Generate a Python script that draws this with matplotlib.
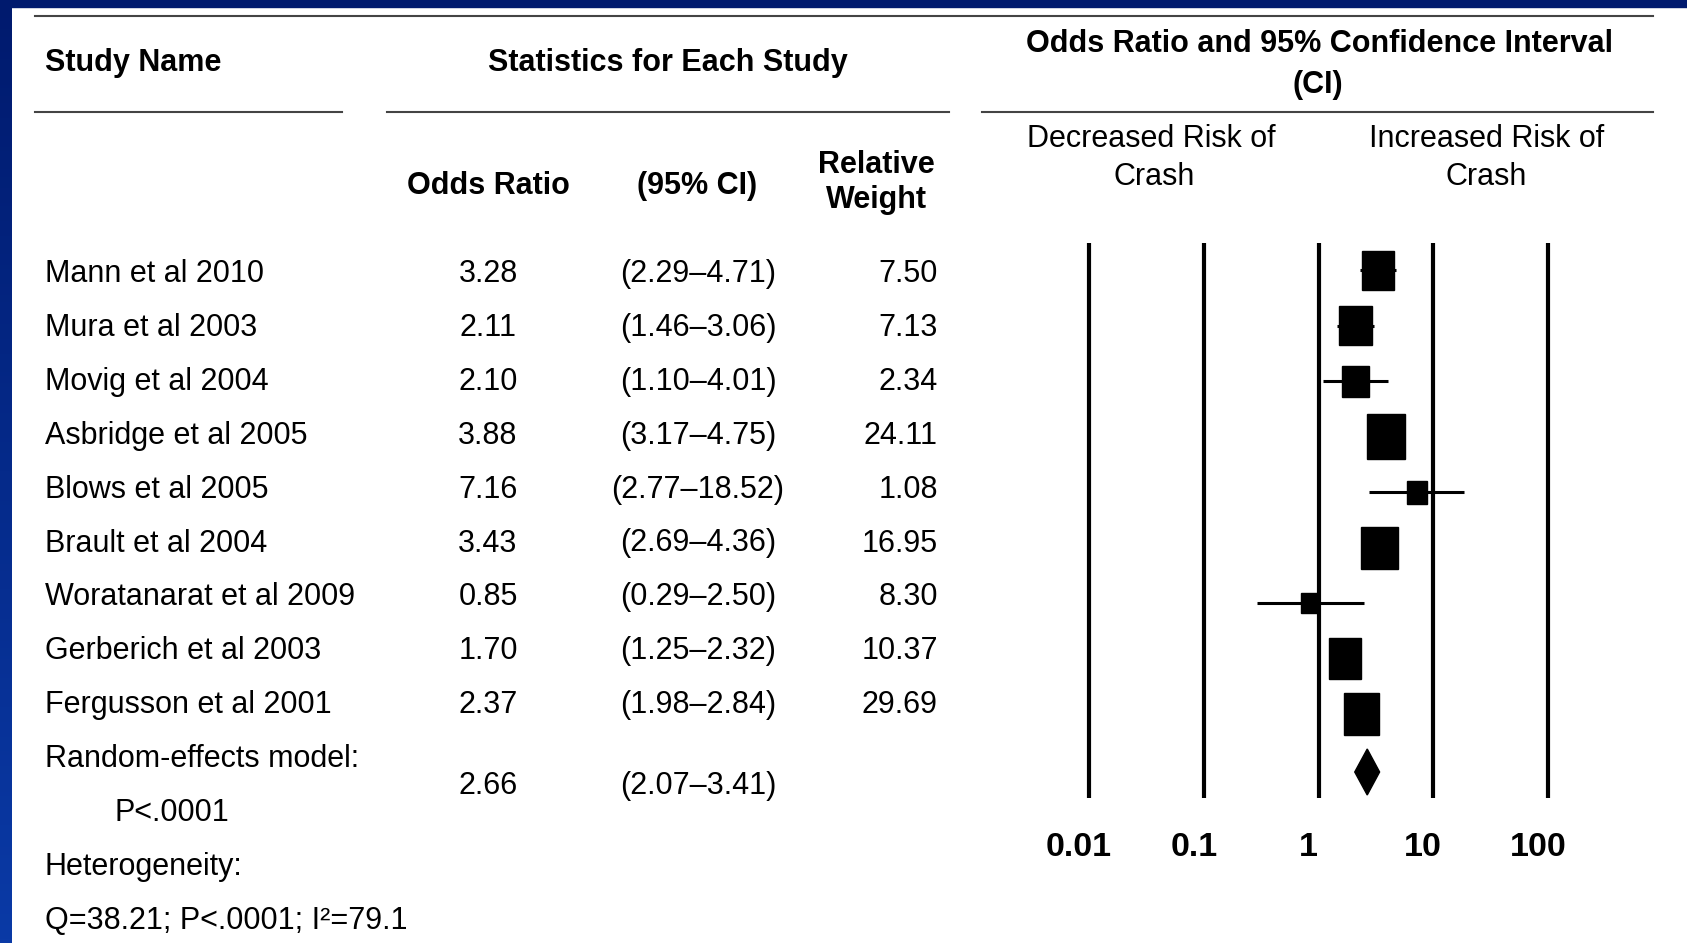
import numpy as np
import matplotlib
matplotlib.use('Agg')
import matplotlib.pyplot as plt
from matplotlib.patches import Rectangle
from matplotlib.transforms import ScaledTranslation

# data
studies = ['Mann et al 2010', 'Mura et al 2003', 'Movig et al 2004', 'Asbridge et al 2005',
           'Blows et al 2005', 'Brault et al 2004', 'Woratanarat et al 2009',
           'Gerberich et al 2003', 'Fergusson et al 2001']
odds = [3.28, 2.11, 2.10, 3.88, 7.16, 3.43, 0.85, 1.70, 2.37]
ci_low = [2.29, 1.46, 1.10, 3.17, 2.77, 2.69, 0.29, 1.25, 1.98]
ci_high = [4.71, 3.06, 4.01, 4.75, 18.52, 4.36, 2.50, 2.32, 2.84]
weights = [7.50, 7.13, 2.34, 24.11, 1.08, 16.95, 8.30, 10.37, 29.69]
pooled_or = 2.66
pooled_low = 2.07
pooled_high = 3.41
q_stat = 38.21
i2 = 79.1
scale_ticks = [0.01, 0.1, 1, 10, 100]
tick_labels = ['0.01', '0.1', '1', '10', '100']

# box sizes in pixels (width, height) as drawn
box_w = [32, 33, 27, 38, 20, 37, 18, 32, 35]
box_h = [39, 39, 31, 45, 23, 42, 20, 41, 42]

plt.rcParams['font.family'] = ['Liberation Sans', 'DejaVu Sans']
FS = 22

W, H = 1687, 943
fig = plt.figure(figsize=(W / 100, H / 100), dpi=100)
fig.patch.set_facecolor('white')

# background axes in pixel coordinates for table text and rules
bg = fig.add_axes([0, 0, 1, 1])
bg.axis('off')

# blue slide border
grad = np.linspace(0, 1, 256).reshape(-1, 1)
cmap = matplotlib.colors.LinearSegmentedColormap.from_list('b', ['#001a6e', '#0a3aa6'])
bg.imshow(grad, cmap=cmap, extent=[0, 12, H, 0], aspect='auto', zorder=1)
bg.add_patch(Rectangle((0, 0), W, 7, color='#001a6e', zorder=2))
bg.set_xlim(0, W)
bg.set_ylim(H, 0)

# header rules
rule = dict(color='#444444', lw=1.5)
bg.plot([35, 1653], [16, 16], **rule)
bg.plot([35, 342], [112, 112], **rule)
bg.plot([387, 949], [112, 112], **rule)
bg.plot([982, 1653], [112, 112], **rule)

# header text
hb = dict(fontsize=FS, fontweight='bold', va='baseline')
bg.text(45, 71, 'Study Name', ha='left', **hb)
bg.text(668, 71, 'Statistics for Each Study', ha='center', **hb)
bg.text(1320, 52, 'Odds Ratio and 95% Confidence Interval', ha='center', **hb)
bg.text(1318, 93, '(CI)', ha='center', **hb)
bg.text(488, 194, 'Odds Ratio', ha='center', **hb)
bg.text(697, 194, '(95% CI)', ha='center', **hb)
bg.text(876, 173, 'Relative', ha='center', **hb)
bg.text(876, 208, 'Weight', ha='center', **hb)
hr = dict(fontsize=FS, va='baseline', ha='center')
bg.text(1151, 147, 'Decreased Risk of', **hr)
bg.text(1154, 185, 'Crash', **hr)
bg.text(1487, 147, 'Increased Risk of', **hr)
bg.text(1486, 185, 'Crash', **hr)

# table body
BASE0, STEP = 282, 53.9
tr = dict(fontsize=FS, va='baseline')
for i, name in enumerate(studies):
    yb = BASE0 + i * STEP
    bg.text(45, yb, name, ha='left', **tr)
    bg.text(488, yb, f'{odds[i]:.2f}', ha='center', **tr)
    bg.text(698, yb, f'({ci_low[i]:.2f}\u2013{ci_high[i]:.2f})', ha='center', **tr)
    bg.text(938, yb, f'{weights[i]:.2f}', ha='right', **tr)

bg.text(45, BASE0 + 9 * STEP, 'Random-effects model:', ha='left', **tr)
bg.text(115, BASE0 + 10 * STEP, 'P<.0001', ha='left', **tr)
ypool = BASE0 + 9.5 * STEP
bg.text(488, ypool, f'{pooled_or:.2f}', ha='center', **tr)
bg.text(698, ypool, f'({pooled_low:.2f}\u2013{pooled_high:.2f})', ha='center', **tr)
bg.text(45, BASE0 + 11 * STEP, 'Heterogeneity:', ha='left', **tr)
bg.text(45, BASE0 + 12 * STEP, f'Q={q_stat:.2f}; P<.0001; I\u00b2={i2}', ha='left', **tr)

# forest plot axes: log x, one row per study
DEC, X1 = 114.7, 1318.5      # pixels per decade, pixel of OR = 1
ROW0, ROWSTEP = 270, 55.5    # pixel of first row, row spacing
L, R, T, B = 990, 1660, 225, 800
ax = fig.add_axes([L / W, 1 - B / H, (R - L) / W, (B - T) / H])
ax.patch.set_alpha(0)
ax.set_xscale('log')
ax.set_xlim(10 ** ((L - X1) / DEC), 10 ** ((R - X1) / DEC))
ax.set_ylim((B - ROW0) / ROWSTEP, (T - ROW0) / ROWSTEP)
for s in ax.spines.values():
    s.set_visible(False)
ax.set_yticks([])

ax.vlines(scale_ticks, (243 - ROW0) / ROWSTEP, (798 - ROW0) / ROWSTEP, color='black', lw=3)

ys = np.arange(len(studies))
ax.hlines(ys, ci_low, ci_high, color='black', lw=2.2, zorder=3)
for i in range(len(studies)):
    hw = box_w[i] / 2 / DEC
    hh = box_h[i] / 2 / ROWSTEP
    lo = odds[i] * 10 ** (-hw)
    hi = odds[i] * 10 ** hw
    ax.add_patch(Rectangle((lo, ys[i] - hh), hi - lo, 2 * hh, color='black', zorder=4))

yd = (772 - ROW0) / ROWSTEP
dh = 23 / ROWSTEP
ax.fill([pooled_low, pooled_or, pooled_high, pooled_or], [yd, yd - dh, yd, yd + dh],
        color='black', zorder=4)

ax.set_xticks(scale_ticks)
ax.set_xticklabels(tick_labels, fontsize=24.5, fontweight='bold')
ax.xaxis.set_minor_locator(matplotlib.ticker.NullLocator())
ax.tick_params(axis='x', length=0, pad=23)
for lab in ax.get_xticklabels():
    lab.set_transform(lab.get_transform() + ScaledTranslation(-0.10, 0, fig.dpi_scale_trans))

fig.savefig('out.png', dpi=100)
